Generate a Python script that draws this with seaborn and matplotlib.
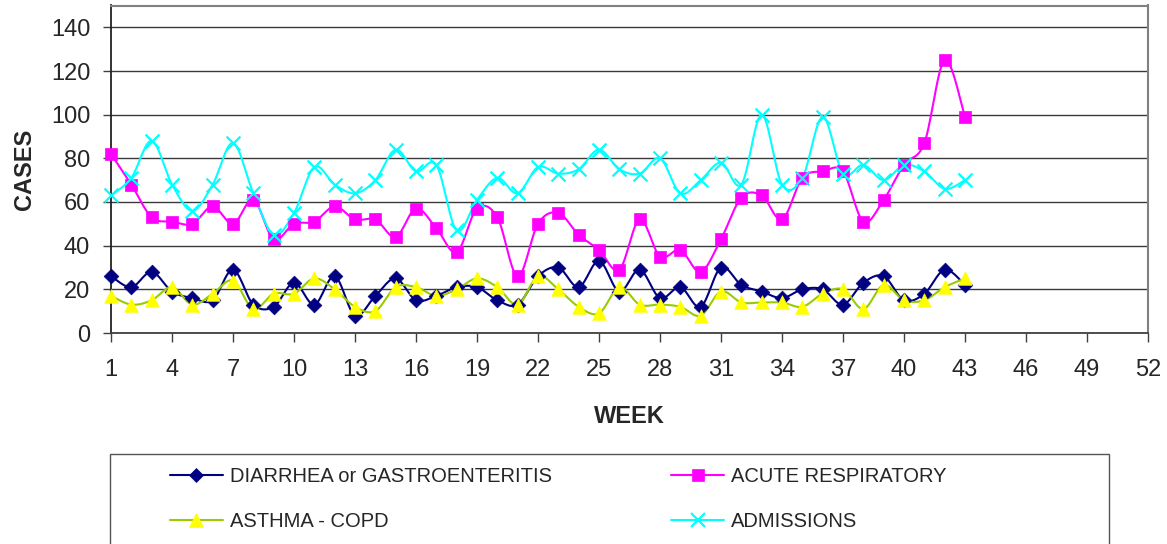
import numpy as np
import pandas as pd
import matplotlib
matplotlib.use("Agg")
import matplotlib.pyplot as plt
from matplotlib.lines import Line2D
from matplotlib.patches import Rectangle
import seaborn as sns

# weekly case counts (weeks 1-43)
weeks = list(range(1, 44))
diarrhea = [26, 21, 28, 19, 16, 15, 29, 13, 12, 23, 13, 26, 8, 17, 25, 15, 17, 21, 21, 15, 13,
            26, 30, 21, 33, 19, 29, 16, 21, 12, 30, 22, 19, 16, 20, 20, 13, 23, 26, 15, 18, 29, 22]
acute_resp = [82, 68, 53, 51, 50, 58, 50, 61, 43, 50, 51, 58, 52, 52, 44, 57, 48, 37, 57, 53, 26,
              50, 55, 45, 38, 29, 52, 35, 38, 28, 43, 62, 63, 52, 71, 74, 74, 51, 61, 77, 87, 125, 99]
asthma = [17, 13, 15, 21, 13, 18, 24, 11, 18, 18, 25, 20, 12, 10, 21, 21, 17, 20, 25, 21, 13,
          26, 20, 12, 9, 21, 13, 13, 12, 8, 19, 14, 14, 14, 12, 18, 20, 11, 22, 15, 15, 21, 25]
admissions = [63, 71, 88, 68, 56, 68, 87, 64, 45, 55, 76, 68, 64, 70, 84, 74, 77, 47, 61, 71, 64,
              76, 73, 75, 84, 75, 73, 80, 64, 70, 78, 68, 100, 68, 71, 99, 73, 77, 70, 77, 74, 66, 70]

labels = ["DIARRHEA or GASTROENTERITIS", "ACUTE RESPIRATORY", "ASTHMA - COPD", "ADMISSIONS"]
x_ticks = list(range(1, 53, 3))
y_ticks = list(range(0, 141, 20))


def smooth(x, y, n=16):
    """Excel-like smoothed line: cubic bezier through the points."""
    x = np.asarray(x, float)
    y = np.asarray(y, float)
    px = np.concatenate([[x[0]], x, [x[-1]]])
    py = np.concatenate([[y[0]], y, [y[-1]]])
    t = np.linspace(0, 1, n)[:, None]
    segs = []
    for i in range(len(x) - 1):
        p0 = np.array([px[i], py[i]])
        p1 = np.array([px[i + 1], py[i + 1]])
        p2 = np.array([px[i + 2], py[i + 2]])
        p3 = np.array([px[i + 3], py[i + 3]])
        c1 = p1 + (p2 - p0) / 6
        c2 = p2 - (p3 - p1) / 6
        b = ((1 - t) ** 3) * p1 + 3 * ((1 - t) ** 2) * t * c1 + 3 * (1 - t) * t ** 2 * c2 + t ** 3 * p2
        segs.append(b if i == 0 else b[1:])
    pts = np.vstack(segs)
    return pd.DataFrame({"week": pts[:, 0], "cases": pts[:, 1]})


sns.set_theme(style="white")
plt.rcParams["font.family"] = ["Liberation Sans", "DejaVu Sans"]

fig = plt.figure(figsize=(11.67, 5.44), dpi=100)
W, H = 1167, 544
ax = fig.add_axes([111 / W, 1 - 333 / H, 1037 / W, (333 - 5.5) / H])

series = [
    # values, line colour, marker, face, size, edge width
    (diarrhea, "#000080", "D", "#000080", 56, 0.5),
    (acute_resp, "#FF00FF", "s", "#FF00FF", 70, 0.5),
    (asthma, "#99CC00", "^", "#FFFF00", 95, 0.5),
    (admissions, "#00FFFF", "x", "#00FFFF", 100, 1.6),
]

handles = []
for (vals, lc, mk, fc, sz, mew), lab in zip(series, labels):
    sns.lineplot(data=smooth(weeks, vals), x="week", y="cases", sort=False,
                 color=lc, linewidth=1.5, ax=ax, legend=False)
    pts = pd.DataFrame({"week": weeks, "cases": vals})
    if mk == "x":
        sns.scatterplot(data=pts, x="week", y="cases", marker=mk, s=sz, color=fc,
                        linewidth=mew, ax=ax, legend=False, clip_on=False, zorder=3)
    else:
        sns.scatterplot(data=pts, x="week", y="cases", marker=mk, s=sz, color=fc,
                        edgecolor=fc, linewidth=mew, ax=ax, legend=False, clip_on=False, zorder=3)
    handles.append(Line2D([0], [0], color=lc, lw=1.5, marker=mk, markersize=np.sqrt(sz),
                          markerfacecolor=fc, markeredgecolor=fc, markeredgewidth=mew))

ax.set_xlim(1, 52)
ax.set_ylim(0, 150)
ax.set_xticks(x_ticks)
ax.set_yticks(y_ticks)
ax.yaxis.grid(True, color="#3a3a3a", linewidth=1.0)
ax.xaxis.grid(False)
ax.tick_params(axis="x", direction="out", length=6.5, width=1, color="#404040",
               labelsize=17, pad=12, bottom=True)
ax.tick_params(axis="y", direction="out", length=6, width=1, color="#404040",
               labelsize=17, pad=9, left=True)

for side in ["top", "right"]:
    ax.spines[side].set_color("#808080")
    ax.spines[side].set_linewidth(1.5)
ax.spines["left"].set_color("#222222")
ax.spines["left"].set_linewidth(1.3)
ax.spines["bottom"].set_color("#404040")
ax.spines["bottom"].set_linewidth(1.3)

ax.set_xlabel("WEEK", fontsize=17, fontweight="bold")
ax.set_ylabel("CASES", fontsize=17, fontweight="bold")
ax.xaxis.set_label_coords(0.5, (333 - 405) / (333 - 5.5))
ax.yaxis.set_label_coords((36 - 111) / 1037, 0.5)

# legend box runs off the bottom of the image like the original
fig.add_artist(Rectangle((110 / W, -0.1), 999 / W, (544 - 454) / H + 0.1,
                         transform=fig.transFigure, fill=False, edgecolor="#555555", lw=1.0))
fs = 14.5
fs_px = fs * 100 / 72
for cols, x0 in [((0, 2), 170), ((1, 3), 671)]:
    fig.legend([handles[i] for i in cols], [labels[i] for i in cols],
               loc="center left", bbox_to_anchor=(x0 / W, 1 - 499 / H),
               frameon=False, fontsize=fs, borderpad=0, borderaxespad=0,
               handlelength=53 / fs_px, handletextpad=7 / fs_px, labelspacing=1.3)

fig.savefig("out.png", dpi=100)
